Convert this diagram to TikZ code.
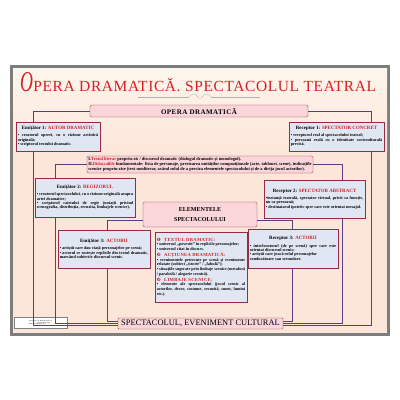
\documentclass[tikz,border=0pt]{standalone}
\usepackage{fontspec}
\setmainfont{Liberation Serif}
\newfontfamily\symfont{DejaVu Sans}
\newfontfamily\ttlfont[LetterSpace=4]{Liberation Serif}
\newfontfamily\capfont[LetterSpace=6]{Liberation Serif}
\usepackage{xcolor}
\usetikzlibrary{shadows}
\definecolor{rd}{RGB}{214,32,38}
\definecolor{vio}{RGB}{86,64,130}
\definecolor{brd}{RGB}{150,42,72}
\definecolor{blu}{RGB}{224,231,243}
\definecolor{pnk}{RGB}{250,214,218}
\definecolor{crm}{RGB}{253,246,236}
\definecolor{pch}{RGB}{252,230,218}
\definecolor{frm}{RGB}{125,125,125}
\setlength{\parindent}{0pt}
\emergencystretch=8pt
\hyphenpenalty=10000
\exhyphenpenalty=10000
\tolerance=9999

\newcommand{\redtx}[1]{\textcolor{rd}{#1}}
\newcommand{\numb}[1]{{\symfont\textcolor{rd}{#1}}}
\newcommand{\bxtitle}[2]{{\centering\fontsize{7}{8}\selectfont #1 \redtx{#2}\par}\vspace{4pt}}
\newcommand{\cbhead}[2]{{\capfont\bfseries\fontsize{6.6}{8}\selectfont\numb{#1}\hspace{5pt}\redtx{#2}\par}}

\begin{document}
\begin{tikzpicture}[x=0.05cm,y=-0.05cm,
  bx/.style={rectangle,draw=brd,fill=blu,line width=0.8pt,inner sep=2.5pt,align=justify,
    font=\fontsize{6}{6.3}\selectfont\bfseries,
    drop shadow={shadow xshift=1.2pt,shadow yshift=-1.2pt,opacity=0.35}},
  pk/.style={rectangle,rounded corners=2pt,draw=brd,fill=pnk,line width=0.6pt,inner sep=2pt,align=center},
  ln/.style={draw=vio,line width=1.3pt}
]
\useasboundingbox (0,0) rectangle (400,400);
\fill[white] (0,0) rectangle (400,400);
% board
\fill[frm] (10,65) rectangle (390,336);
\shade[top color=crm,bottom color=pch] (13,68) rectangle (387,150);
\fill[pch] (13,150) rectangle (387,333);

% title
\node[anchor=base west,inner sep=0pt,text=rd] (ttl) at (20,91.7)
  {\scalebox{0.62}[1]{\fontsize{41}{41}\selectfont\itshape O}\hspace{0.5pt}{\ttlfont\fontsize{22}{24}\selectfont PERA DRAMATICĂ. SPECTACOLUL TEATRAL}};
\draw[gray!60,line width=0.4pt] (138,97) -- (189,97) (211,97) -- (260,97);
\draw[gray!60,line width=0.5pt] (189,97) .. controls (192,93) and (196,93) .. (197,96)
  .. controls (198,99) and (202,99) .. (203,96) .. controls (204,93) and (208,93) .. (211,97);

% boxes
\node[pk,minimum width=10.9cm,minimum height=0.6cm,font=\capfont\bfseries\fontsize{10}{12}\selectfont] (hd) at (199,111) {OPERA DRAMATICĂ};

\node[bx,text width=4.02cm,minimum height=1.45cm] (e1) at (58,136.5) {%
\bxtitle{Emițător 1:}{AUTOR DRAMATIC}
• creatorul operei, cu o viziune artistică originală;\par
• scriptorul textului dramatic.};

\node[bx,text width=4.57cm,minimum height=1.45cm] (r1) at (336.5,136.5) {%
\bxtitle{Receptor 1:}{SPECTATOR CONCRET}
• receptorul real al spectacolului teatral;\par
• persoană reală cu o identitate socioculturală precisă.};

\node[pk,text width=11.16cm,minimum height=0.85cm,align=justify,font=\fontsize{6.3}{6.6}\selectfont\bfseries] (tb) at (200,164.5) {%
I.\redtx{Textul literar} propriu-zis / discursul dramatic (dialogul dramatic și monologul).\par
II.\redtx{Didascaliile} fundamentale: lista de personaje, precizarea unităților compoziționale (acte, tablouri, scene), indicațiile scenice propriu-zise (text nonliterar, având rolul de a preciza elementele spectacolului și de a dirija jocul actorilor).};

\node[bx,text width=4.82cm,minimum height=1.95cm] (e2) at (85,197.5) {%
\bxtitle{Emițător 2:}{REGIZORUL}
• creatorul spectacolului, cu o viziune originală asupra artei dramatice;\par
• scriptorul caietului de regie (notații privind scenografia, distribuția, recuzita, limbajele scenice).};

\node[bx,text width=4.87cm,minimum height=1.9cm] (r2) at (314.5,199) {%
\bxtitle{Receptor 2:}{SPECTATOR ABSTRACT}
•instanță teatrală, spectator virtual, privit ca funcție, nu ca persoană;\par
• destinatarul ipotetic spre care este orientat mesajul.};

\node[pk,minimum width=5.7cm,minimum height=1.25cm,font=\bfseries\fontsize{8.6}{14}\selectfont] (el) at (200,214.5) {ELEMENTELE\\SPECTACOLULUI};

\node[bx,text width=4.42cm,minimum height=1.9cm] (e3) at (104,249) {%
\bxtitle{Emițător 3:}{ACTORII}
• artiștii care dau viață personajelor pe scenă;\par
• actorul ce rostește replicile din textul dramatic, marcând subiectiv discursul scenic.};

\node[bx,text width=4.42cm,minimum height=3.5cm,font=\fontsize{5.9}{6.8}\selectfont\bfseries] (cb) at (201,267) {%
\cbhead{❶}{TEXTUL DRAMATIC:}
• universul „povestit” în replicile personajelor;\par
• universul citat în discurs.\par
\cbhead{❷}{ACȚIUNEA DRAMATICĂ:}
• evenimentele petrecute pe scenă și evenimente relatate (subiect „istorie” / „fabulă”);\par
• situațiile sugerate prin limbaje scenice (metaforă / parabolă / alegorie scenică).\par
\cbhead{❸}{LIMBAJE SCENICE:}
• elemente ale spectacolului (jocul scenic al actorilor, decor, costume, recuzită, sunet, lumini etc.).};

\node[bx,text width=4.32cm,minimum height=1.95cm] (r3) at (293,248.5) {%
\bxtitle{Receptor 3:}{ACTORII}
• interlocutorul (de pe scenă) spre care este orientat discursul scenic;\par
• artiștii care joacă rolul personajelor\newline conducătoare sau secundare.};

\node[pk,rounded corners=1pt,minimum width=8.25cm,minimum height=0.55cm,inner sep=1pt,font=\fontsize{12}{13}\selectfont] (bt) at (200.5,323.5) {SPECTACOLUL, EVENIMENT CULTURAL};

\node[draw=gray,fill=white,inner sep=1pt,minimum width=2.65cm,minimum height=0.55cm,align=left,font=\fontsize{2.3}{2.7}\selectfont] (cr) at (40.5,322.5) {Autori: prof. dr. Mihaela Ioana Cuc\\ \hspace{12pt}prof. Rodica Lungu\\ ISBN: 978-606-8052-26-3};

% connectors
\coordinate (xa) at (33,0);
\coordinate (xb) at (55,0);
\coordinate (xc) at (107,0);
\coordinate (xd) at (292,0);
\coordinate (xe) at (342,0);
\coordinate (xf) at (371,0);

\draw[ln] (hd.west) -| (xa |- e1.north);
\draw[ln] (hd.east) -| (xf |- r1.north);
\draw[ln] (xa |- e1.south) |- ([yshift=-2.2pt]bt.west);
\draw[ln] (xf |- r1.south) |- ([yshift=-2.2pt]bt.east);

\draw[ln] (tb.west) -| (xb |- e2.north);
\draw[ln] (tb.east) -| (xe |- r2.north);
\draw[ln] (xb |- e2.south) |- ([yshift=0.5pt]bt.west);
\draw[ln] (xe |- r2.south) |- ([yshift=0.5pt]bt.east);

\draw[ln] ([yshift=-9pt]el.west) -| (xc |- e3.north);
\draw[ln] ([yshift=-9pt]el.east) -| (xd |- r3.north);
\draw[ln] (xc |- e3.south) |- ([yshift=3.5pt]bt.west);
\draw[ln] (xd |- r3.south) |- ([yshift=3.5pt]bt.east);
\end{tikzpicture}
\end{document}
